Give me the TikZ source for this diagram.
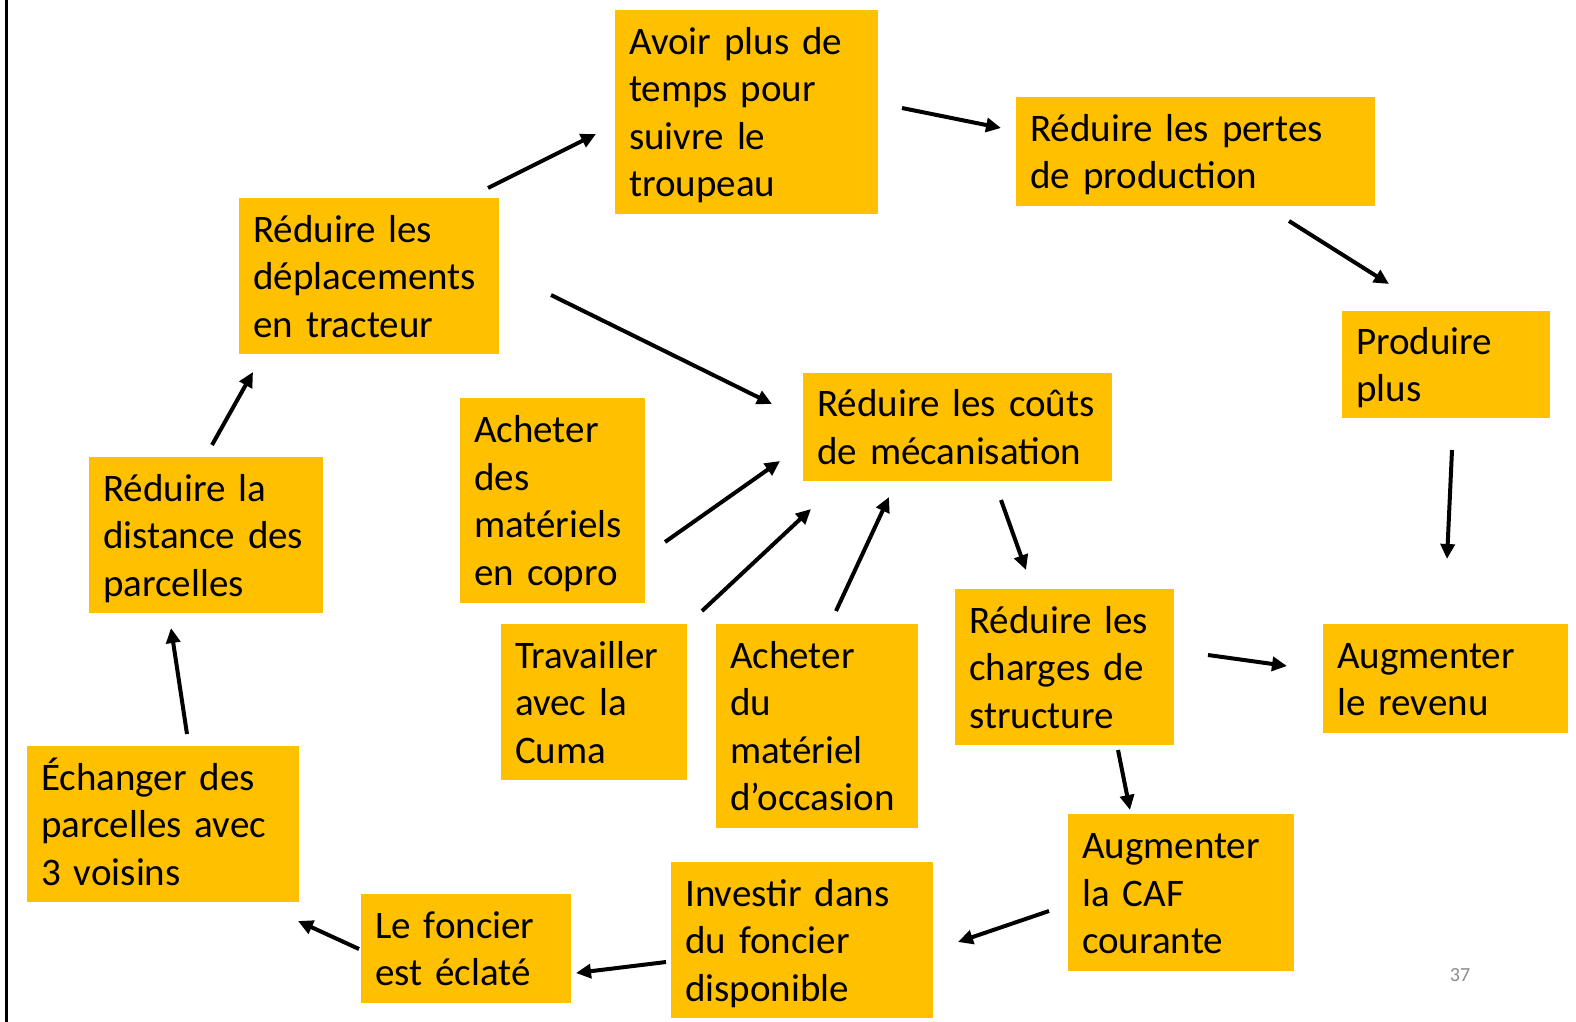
\documentclass[tikz,border=0pt]{standalone}
\usepackage{fontspec}
\setmainfont{Carlito}
\usetikzlibrary{arrows.meta}
\definecolor{gold}{HTML}{FFC000}
\definecolor{numgray}{HTML}{8C8C8C}
\newcommand{\topstrut}{\rule{0pt}{37pt}}
\newcommand{\botstrut}{\rule[-10pt]{0pt}{10pt}}
\tikzset{
  box/.style={fill=gold, anchor=north west, inner xsep=14pt, inner ysep=0pt,
    align=left, font=\fontsize{39}{47.5}\selectfont,
    execute at begin node=\topstrut, execute at end node=\botstrut},
  link/.style={line width=4pt, -{Triangle[length=15pt,width=14pt]}},
}
\begin{document}
\begin{tikzpicture}[x=1pt,y=-1pt]
\useasboundingbox (0,0) rectangle (1576,1022);
\fill[white] (0,0) rectangle (1576,1022);
\draw[line width=3pt] (6.8,0) -- (6.8,1022);

% boxes
\node[box, minimum width=263pt, minimum height=204pt, text width=235pt] (temps) at (615,10) {Avoir plus de\\temps pour\\suivre le\\troupeau};
\node[box, minimum width=359pt, minimum height=109pt, text width=331pt] (pertes) at (1016,97) {Réduire les pertes\\de production};
\node[box, minimum width=208pt, minimum height=107pt, text width=180pt] (produire) at (1342,311) {Produire\\plus};
\node[box, minimum width=245pt, minimum height=109pt, text width=217pt] (revenu) at (1323,624) {Augmenter\\le revenu};
\node[box, minimum width=309pt, minimum height=108pt, text width=281pt] (couts) at (803,373) {Réduire les coûts\\de mécanisation};
\node[box, minimum width=260pt, minimum height=156pt, text width=232pt] (deplac) at (239,198) {Réduire les\\déplacements\\en tracteur};
\node[box, minimum width=234pt, minimum height=156pt, text width=206pt] (distance) at (89,457) {Réduire la\\distance des\\parcelles};
\node[box, minimum width=185pt, minimum height=205pt, text width=157pt] (copro) at (460,398) {Acheter\\des\\matériels\\en copro};
\node[box, minimum width=186pt, minimum height=156pt, text width=158pt] (cuma) at (501,624) {Travailler\\avec la\\Cuma};
\node[box, minimum width=202pt, minimum height=204pt, text width=174pt] (occasion) at (716,624) {Acheter\\du\\matériel\\d’occasion};
\node[box, minimum width=219pt, minimum height=156pt, text width=191pt] (charges) at (955,589) {Réduire les\\charges de\\structure};
\node[box, minimum width=226pt, minimum height=157pt, text width=198pt] (caf) at (1068,814) {Augmenter\\la CAF\\courante};
\node[box, minimum width=262pt, minimum height=156pt, text width=234pt] (investir) at (671,862) {Investir dans\\du foncier\\disponible};
\node[box, minimum width=210pt, minimum height=109pt, text width=182pt] (foncier) at (361,894) {Le foncier\\est éclaté};
\node[box, minimum width=272pt, minimum height=156pt, text width=244pt] (echanger) at (27,746) {Échanger des\\parcelles avec\\3 voisins};

\node[text=numgray, font=\fontsize{20}{24}\selectfont] (slideno) at (1460,975) {37};

% arrow end points
\coordinate (a1s) at (488,188);  \coordinate (a1e) at (596,134);
\coordinate (a2s) at (902,108);  \coordinate (a2e) at (1001,128);
\coordinate (a3s) at (1289,221); \coordinate (a3e) at (1389,284);
\coordinate (a4s) at (1452,450); \coordinate (a4e) at (1447,559);
\coordinate (a5s) at (551,295);  \coordinate (a5e) at (772,404);
\coordinate (a6s) at (665,542);  \coordinate (a6e) at (780,461);
\coordinate (a7s) at (702,611);  \coordinate (a7e) at (811,509);
\coordinate (a8s) at (836,611);  \coordinate (a8e) at (889,497);
\coordinate (a9s) at (1001,500); \coordinate (a9e) at (1026,570);
\coordinate (a10s) at (1208,655); \coordinate (a10e) at (1287,666);
\coordinate (a11s) at (1118,750); \coordinate (a11e) at (1130,810);
\coordinate (a12s) at (1049,911); \coordinate (a12e) at (958,942);
\coordinate (a13s) at (666,962);  \coordinate (a13e) at (576,973);
\coordinate (a14s) at (359,949);  \coordinate (a14e) at (298,921);
\coordinate (a15s) at (187,734);  \coordinate (a15e) at (171,628);
\coordinate (a16s) at (212,445);  \coordinate (a16e) at (253,372);

% arrows
\foreach \i in {1,...,16} \draw[link] (a\i s) -- (a\i e);
\end{tikzpicture}
\end{document}
